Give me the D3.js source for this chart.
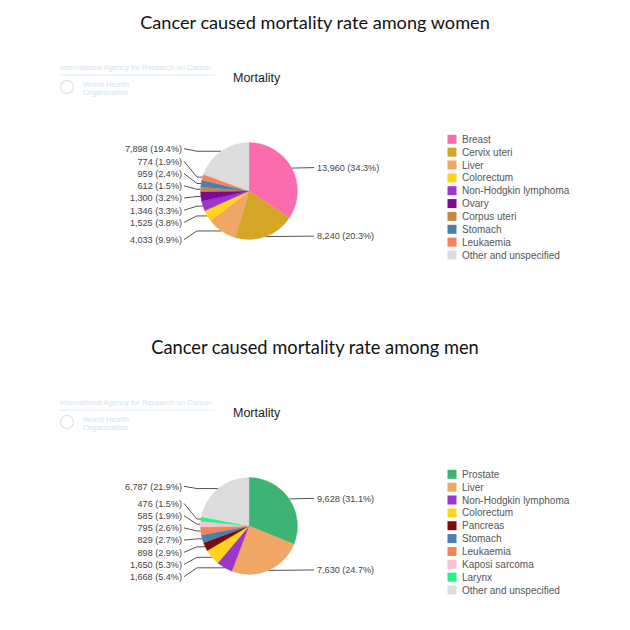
<!DOCTYPE html>
<html>
<head>
<meta charset="utf-8">
<script src="https://cdn.jsdelivr.net/npm/d3@7"></script>
<style>
  html, body { margin: 0; padding: 0; background: #fff; }
  svg { display: block; }
</style>
</head>
<body>
<svg id="chart" width="630" height="630"></svg>
<script>
// ---------- DATA ----------
const womenTitle = "Cancer caused mortality rate among women";
const womenCategories = ["Breast", "Cervix uteri", "Liver", "Colorectum", "Non-Hodgkin lymphoma", "Ovary", "Corpus uteri", "Stomach", "Leukaemia", "Other and unspecified"];
const womenValues = [13960, 8240, 4033, 1525, 1346, 1300, 612, 959, 774, 7898];

const menTitle = "Cancer caused mortality rate among men";
const menCategories = ["Prostate", "Liver", "Non-Hodgkin lymphoma", "Colorectum", "Pancreas", "Stomach", "Leukaemia", "Kaposi sarcoma", "Larynx", "Other and unspecified"];
const menValues = [9628, 7630, 1668, 1650, 898, 829, 795, 585, 476, 6787];

const subTitle = "Mortality";

// ---------- STYLES ----------
const colorMap = {
  "Breast": "#fb6caf",
  "Cervix uteri": "#d5a526",
  "Liver": "#f2a665",
  "Colorectum": "#fdd41a",
  "Non-Hodgkin lymphoma": "#9c37c9",
  "Ovary": "#7d0897",
  "Corpus uteri": "#c68646",
  "Stomach": "#4a80b0",
  "Leukaemia": "#f58259",
  "Other and unspecified": "#dcdcdc",
  "Prostate": "#3db374",
  "Pancreas": "#7e0a0a",
  "Kaposi sarcoma": "#f9c3cd",
  "Larynx": "#2ded8c"
};

const svg = d3.select("#chart");
const fmt = d3.format(",");

function drawTitle(text, baseline, targetWidth) {
  const t = svg.append("text")
    .attr("x", 315).attr("y", baseline)
    .attr("text-anchor", "middle")
    .attr("font-family", "Lato, 'Open Sans', sans-serif")
    .attr("font-weight", 400)
    .attr("font-size", 17)
    .attr("fill", "#111")
    .text(text);
  const w = t.node().getComputedTextLength();
  t.attr("font-size", 17 * targetWidth / w);
}

function drawBlock(categories, values, offY) {
  const g = svg.append("g").attr("transform", `translate(0,${offY})`);

  // faint watermark
  const wm = g.append("g").attr("fill", "#d6e4ee").attr("font-family", "Liberation Sans, Arial, sans-serif");
  wm.append("text").attr("x", 60).attr("y", 70).attr("font-size", 7.6).text("International Agency for Research on Cancer");
  wm.append("line").attr("x1", 60).attr("x2", 215).attr("y1", 75).attr("y2", 75).attr("stroke", "#e3ecf3");
  wm.append("circle").attr("cx", 67).attr("cy", 87).attr("r", 6.5).attr("fill", "none").attr("stroke", "#d6e4ee").attr("stroke-width", 1.2);
  wm.append("text").attr("x", 83).attr("y", 86.5).attr("font-size", 8).text("World Health");
  wm.append("text").attr("x", 83).attr("y", 95).attr("font-size", 8).text("Organization");

  g.append("text")
    .attr("x", 233).attr("y", 82)
    .attr("font-family", "Liberation Sans, Arial, sans-serif")
    .attr("font-size", 12.5)
    .attr("fill", "#222")
    .text(subTitle);

  const cx = 249, cy = 191, r = 48.5;
  const total = d3.sum(values);
  const data = categories.map((c, i) => ({ cat: c, value: values[i] }));
  const pie = d3.pie().value(d => d.value).sort(null);
  const arcs = pie(data);
  const arc = d3.arc().innerRadius(0).outerRadius(r);

  // label layout
  const items = arcs.map(a => {
    const mid = (a.startAngle + a.endAngle) / 2;
    const px = cx + r * Math.sin(mid);
    const py = cy - r * Math.cos(mid);
    const pct = (a.data.value / total * 100).toFixed(1);
    return { a, mid, px, py, text: `${fmt(a.data.value)} (${pct}%)`, right: mid < Math.PI };
  });
  const left = items.filter(d => !d.right);
  left.forEach(d => { d.ly = cy + 3 - 1.14 * r * Math.cos(d.mid); });
  left.sort((a, b) => b.ly - a.ly);
  const spacing = 12.2;
  for (let i = 1; i < left.length; i++) {
    left[i].ly = Math.min(left[i].ly, left[i - 1].ly - spacing);
  }
  items.filter(d => d.right).forEach(d => { d.ly = d.py - 0.5; });

  const lineG = g.append("g").attr("fill", "none").attr("stroke", "#555").attr("stroke-width", 1);
  const textG = g.append("g")
    .attr("font-family", "Liberation Sans, Arial, sans-serif")
    .attr("font-size", 9.1)
    .attr("fill", "#444");

  items.forEach(d => {
    if (d.right) {
      lineG.append("path").attr("d", `M${d.px},${d.py}L314,${d.ly}`);
      textG.append("text").attr("x", 317).attr("y", d.ly + 3.3).text(d.text);
    } else {
      const ex = 197;
      lineG.append("path").attr("d", `M${d.px},${d.py}L${ex},${d.py}L184,${d.ly}`);
      textG.append("text").attr("x", 182).attr("y", d.ly + 3.3).attr("text-anchor", "end").text(d.text);
    }
  });

  g.append("g").attr("transform", `translate(${cx},${cy})`)
    .selectAll("path").data(arcs).join("path")
    .attr("d", arc)
    .attr("fill", d => colorMap[d.data.cat])
    .attr("stroke", d => colorMap[d.data.cat])
    .attr("stroke-width", 0.3);

  // legend
  const lg = g.append("g").attr("font-family", "Liberation Sans, Arial, sans-serif").attr("font-size", 10).attr("fill", "#555");
  const rowY = d3.scaleLinear().domain([0, categories.length - 1]).range([139.3, 255]);
  categories.forEach((c, i) => {
    const y = rowY(i);
    lg.append("rect").attr("x", 447.5).attr("y", y - 4.5).attr("width", 9).attr("height", 9).attr("fill", colorMap[c]);
    lg.append("text").attr("x", 462).attr("y", y + 3.6).text(c);
  });
}

drawTitle(womenTitle, 28.5, 350);
drawBlock(womenCategories, womenValues, 0);
drawTitle(menTitle, 354.3, 328);
drawBlock(menCategories, menValues, 335);
</script>
</body>
</html>
